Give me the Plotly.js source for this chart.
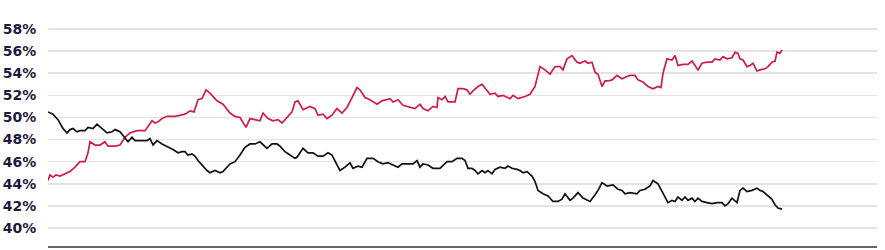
<!DOCTYPE html>
<html>
<head>
<meta charset="utf-8">
<script src="https://cdn.plot.ly/plotly-3.0.1.min.js"></script>
<style>html,body{margin:0;padding:0;background:#fff;}#chart{width:885px;height:250px;}</style>
</head>
<body>
<div id="chart"></div>
<script>
// day index for each reading
const redDays = [0,2,5,8,12,17,22,27,30,32,37,40,42,47,52,57,60,67,72,77,82,89,97,100,104,107,110,114,119,127,132,134,137,142,146,150,154,158,162,169,175,182,187,192,198,202,209,212,215,220,225,230,234,239,244,247,250,255,262,267,270,275,279,284,289,294,299,304,309,312,317,322,329,334,342,345,350,355,362,367,372,375,380,385,389,390,394,397,400,407,410,415,419,422,425,430,434,437,442,447,450,455,462,465,470,477,482,487,490,492,497,502,507,512,515,519,524,529,532,537,540,544,547,550,554,557,560,564,569,574,579,582,587,590,595,600,605,610,613,615,619,624,627,630,635,640,644,647,650,654,659,664,667,672,675,679,684,687,690,692,695,699,702,705,709,712,717,720,724,727,729,732,734];
const red = [44.3,44.8,44.6,44.8,44.7,44.9,45.1,45.5,45.8,46.0,46.0,46.8,47.8,47.5,47.5,47.8,47.4,47.4,47.5,48.2,48.6,48.8,48.8,49.2,49.7,49.5,49.6,49.9,50.1,50.1,50.2,50.3,50.3,50.6,50.5,51.6,51.7,52.5,52.2,51.5,51.2,50.4,50.1,50.0,49.1,49.9,49.8,49.7,50.4,49.9,49.7,49.8,49.5,50.0,50.5,51.4,51.5,50.7,51.0,50.8,50.2,50.3,49.9,50.2,50.8,50.4,50.9,51.8,52.7,52.5,51.8,51.6,51.2,51.5,51.7,51.4,51.6,51.1,50.9,50.8,51.2,50.8,50.6,51.0,50.9,51.8,51.6,51.9,51.4,51.4,52.6,52.6,52.5,52.1,52.4,52.8,53.0,52.7,52.1,52.2,51.9,52.0,51.7,52.0,51.7,51.9,52.1,52.8,53.8,54.6,54.3,53.9,54.6,54.6,54.3,55.3,55.6,55.0,54.9,55.1,54.9,55.0,54.1,53.9,52.8,53.3,53.3,53.4,53.8,53.5,53.7,53.8,53.8,53.4,53.2,52.8,52.6,52.8,52.7,54.0,55.3,55.2,55.6,54.7,54.8,54.8,55.1,54.7,54.3,54.9,55.0,55.0,55.3,55.2,55.5,55.3,55.4,55.9,55.8,55.3,55.2,54.6,54.7,54.9,54.2,54.3,54.4,54.6,55.0,55.1,55.9,55.8,56.1];

const blackDays = [0,5,10,15,19,22,25,29,32,37,40,45,49,54,59,64,67,72,77,80,84,87,99,102,105,109,114,119,125,130,134,137,140,144,147,150,154,159,162,167,172,175,182,187,192,197,202,207,212,219,224,229,232,237,242,247,249,255,260,265,270,275,280,284,289,292,297,302,305,310,314,319,325,330,335,340,345,350,354,360,365,369,372,375,380,385,392,399,404,409,414,417,420,424,427,430,434,437,440,444,447,452,457,460,464,469,472,475,479,484,487,490,495,500,505,510,514,517,522,525,530,535,540,542,547,550,554,559,565,570,574,577,582,589,592,597,602,605,610,614,617,620,624,627,630,634,637,640,644,647,650,654,659,664,669,674,677,680,684,687,689,692,695,699,704,709,712,715,719,724,727,730,734];
const black = [50.5,50.3,49.8,49.0,48.6,48.9,49.0,48.7,48.8,48.8,49.1,49.0,49.4,49.0,48.6,48.7,48.9,48.7,48.2,47.8,48.2,47.9,47.9,48.1,47.5,47.9,47.6,47.4,47.1,46.8,46.9,46.9,46.6,46.7,46.5,46.1,45.7,45.2,45.0,45.2,45.0,45.1,45.8,46.0,46.6,47.3,47.6,47.6,47.8,47.2,47.6,47.6,47.4,46.9,46.6,46.3,46.4,47.2,46.8,46.8,46.5,46.5,46.8,46.6,45.7,45.2,45.5,45.9,45.4,45.6,45.5,46.3,46.3,46.0,45.8,45.9,45.7,45.5,45.8,45.8,45.8,46.1,45.5,45.8,45.7,45.4,45.4,46.0,46.0,46.3,46.3,46.1,45.4,45.4,45.2,44.9,45.2,45.0,45.2,44.9,45.3,45.5,45.4,45.6,45.4,45.3,45.2,45.0,45.1,44.7,44.2,43.4,43.1,42.9,42.4,42.4,42.6,43.1,42.5,42.7,43.2,42.7,42.5,42.4,43.0,43.4,44.1,43.8,43.9,43.5,43.4,43.1,43.2,43.1,43.4,43.5,43.8,44.3,44.0,43.3,42.8,42.3,42.5,42.4,42.8,42.5,42.8,42.5,42.7,42.4,42.7,42.4,42.3,42.2,42.3,42.3,42.0,42.2,42.7,42.5,42.3,43.4,43.6,43.3,43.4,43.6,43.4,43.3,43.0,42.6,42.1,41.8,41.7];

const yTicks = [40,42,44,46,48,50,52,54,56,58];
const yTickText = yTicks.map(v => v + '%');

const traces = [
  {x: redDays, y: red, type: 'scatter', mode: 'lines', name: 'Red',
   line: {color: '#d11d44', width: 1.7}, hoverinfo: 'skip'},
  {x: blackDays, y: black, type: 'scatter', mode: 'lines', name: 'Black',
   line: {color: '#111111', width: 1.7}, hoverinfo: 'skip'}
];

const layout = {
  width: 885, height: 250,
  margin: {l: 48, r: 8, t: 10, b: 4, pad: 0},
  paper_bgcolor: '#ffffff', plot_bgcolor: '#ffffff',
  showlegend: false,
  xaxis: {
    range: [0, 829], showgrid: false, zeroline: false,
    showticklabels: false, ticks: '',
    showline: true, linecolor: '#666666', linewidth: 2
  },
  yaxis: {
    range: [38.37, 59.72], tickvals: yTicks, ticktext: yTickText,
    showgrid: true, gridcolor: '#e3e3e3', gridwidth: 1.5,
    zeroline: false, showline: false,
    ticks: 'outside', ticklen: 8, tickcolor: 'rgba(0,0,0,0)',
    tickfont: {family: 'DejaVu Sans, Arial, sans-serif', size: 14, color: '#1f1a3d', weight: 'bold'}
  }
};

Plotly.newPlot('chart', traces, layout, {displayModeBar: false, staticPlot: true});
</script>
</body>
</html>
